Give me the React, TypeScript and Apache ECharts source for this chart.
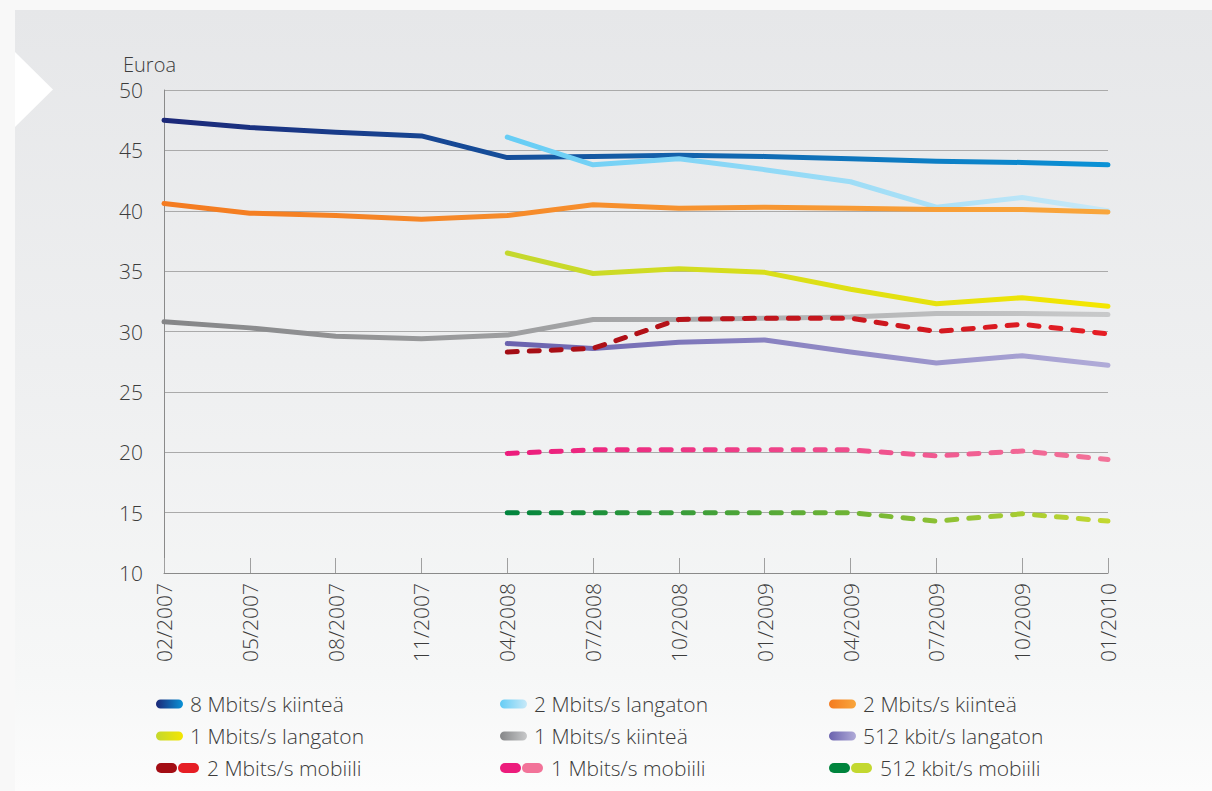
import React, { useEffect, useRef } from 'react';
import * as echarts from 'echarts';

const categories = ['02/2007', '05/2007', '08/2007', '11/2007', '04/2008', '07/2008', '10/2008', '01/2009', '04/2009', '07/2009', '10/2009', '01/2010'];

const s8Kiintea = [47.5, 46.9, 46.5, 46.2, 44.4, 44.5, 44.6, 44.5, 44.3, 44.1, 44.0, 43.8];
const s2Langaton = [null, null, null, null, 46.1, 43.8, 44.3, 43.4, 42.4, 40.3, 41.1, 40.0];
const s2Kiintea = [40.6, 39.8, 39.6, 39.3, 39.6, 40.5, 40.2, 40.3, 40.2, 40.1, 40.1, 39.9];
const s1Langaton = [null, null, null, null, 36.5, 34.8, 35.2, 34.9, 33.5, 32.3, 32.8, 32.1];
const s1Kiintea = [30.8, 30.3, 29.6, 29.4, 29.7, 31.0, 31.0, 31.1, 31.2, 31.5, 31.5, 31.4];
const s512Langaton = [null, null, null, null, 29.0, 28.6, 29.1, 29.3, 28.3, 27.4, 28.0, 27.2];
const s2Mobiili = [null, null, null, null, 28.3, 28.6, 31.0, 31.1, 31.1, 30.0, 30.6, 29.8];
const s1Mobiili = [null, null, null, null, 19.9, 20.2, 20.2, 20.2, 20.2, 19.7, 20.1, 19.4];
const s512Mobiili = [null, null, null, null, 15.0, 15.0, 15.0, 15.0, 15.0, 14.3, 14.9, 14.3];

const yTicks = { min: 10, max: 50, interval: 5 };
const yAxisName = 'Euroa';

const seriesDefs = [
  { name: '8 Mbits/s kiinteä', data: s8Kiintea, from: '#1c2878', to: '#0a92d6', dashed: false },
  { name: '2 Mbits/s langaton', data: s2Langaton, from: '#66cdf5', to: '#c8e9f8', dashed: false },
  { name: '2 Mbits/s kiinteä', data: s2Kiintea, from: '#f47b20', to: '#f9a63c', dashed: false },
  { name: '1 Mbits/s langaton', data: s1Langaton, from: '#c4d82e', to: '#f4e600', dashed: false },
  { name: '1 Mbits/s kiinteä', data: s1Kiintea, from: '#858688', to: '#c8c9ca', dashed: false },
  { name: '512 kbit/s langaton', data: s512Langaton, from: '#6a62ae', to: '#b0abd8', dashed: false },
  { name: '2 Mbits/s mobiili', data: s2Mobiili, from: '#a30d14', to: '#e61e25', dashed: true },
  { name: '1 Mbits/s mobiili', data: s1Mobiili, from: '#ec1c7c', to: '#f27399', dashed: true },
  { name: '512 kbit/s mobiili', data: s512Mobiili, from: '#00843d', to: '#c3d830', dashed: true },
];

const FONT = "'Open Sans', 'Noto Sans', sans-serif";
const TEXT_COLOR = '#3c3c3c';

function grad(a: string, b: string) {
  return new echarts.graphic.LinearGradient(0, 0, 1, 0, [
    { offset: 0, color: a },
    { offset: 1, color: b },
  ]);
}

function buildLegend() {
  const colX = [156, 500, 829];
  const rowY = [704, 736, 768];
  return seriesDefs.map((s, i) => {
    const col = i % 3;
    const row = Math.floor(i / 3);
    const children: any[] = [];
    let textX = 34;
    if (s.dashed) {
      children.push({ type: 'rect', shape: { x: 0, y: -5, width: 21, height: 10, r: 5 }, style: { fill: s.from } });
      children.push({ type: 'rect', shape: { x: 22, y: -5, width: 21, height: 10, r: 5 }, style: { fill: s.to } });
      textX = 51;
    } else {
      children.push({ type: 'rect', shape: { x: 0, y: -4.5, width: 27, height: 9, r: 4.5 }, style: { fill: grad(s.from, s.to) } });
    }
    children.push({
      type: 'text',
      x: textX,
      y: 0,
      style: { text: s.name, fontSize: 21, fontWeight: 300, fontFamily: FONT, fill: TEXT_COLOR, verticalAlign: 'middle', align: 'left' },
    });
    return { type: 'group', x: colX[col], y: rowY[row], children };
  });
}

export default function App() {
  const ref = useRef<HTMLDivElement>(null);
  useEffect(() => {
    const chart = echarts.init(ref.current!, null, { renderer: 'svg' });
    const option: any = {
      animation: false,
      backgroundColor: '#f8f8f8',
      grid: { left: 164, right: 104, top: 90, bottom: 218, containLabel: false },
      xAxis: {
        type: 'category',
        data: categories,
        boundaryGap: false,
        axisLine: { show: true, lineStyle: { color: '#8a8a8a', width: 1 } },
        axisTick: { show: true, inside: true, length: 15, lineStyle: { color: '#a0a0a0' } },
        axisLabel: { rotate: 90, margin: 10, fontSize: 21, fontWeight: 300, fontFamily: FONT, color: TEXT_COLOR },
        splitLine: { show: false },
      },
      yAxis: {
        type: 'value',
        min: yTicks.min,
        max: yTicks.max,
        interval: yTicks.interval,
        name: yAxisName,
        nameLocation: 'end',
        nameGap: 16,
        nameTextStyle: { fontSize: 20, fontWeight: 300, fontFamily: FONT, color: TEXT_COLOR, align: 'center', padding: [0, 29, 0, 0], lineHeight: 20 },
        axisLine: { show: true, lineStyle: { color: '#8a8a8a', width: 1 } },
        axisTick: { show: false },
        axisLabel: { margin: 21, fontSize: 21, fontWeight: 300, fontFamily: FONT, color: TEXT_COLOR },
        splitLine: { show: true, lineStyle: { color: '#aaaaaa', width: 1 } },
      },
      graphic: [
        { type: 'rect', z: -100, silent: true, shape: { x: 15, y: 10, width: 1197, height: 781 },
          style: { fill: new echarts.graphic.LinearGradient(0, 0, 0, 1, [
            { offset: 0, color: '#e6e7e9' },
            { offset: 0.45, color: '#eeeff0' },
            { offset: 0.85, color: '#f6f7f7' },
            { offset: 1, color: '#fcfcfc' },
          ]) } },
        { type: 'polygon', z: -99, silent: true, shape: { points: [[15, 52], [53, 89.5], [15, 127]] }, style: { fill: '#ffffff' } },
        ...buildLegend(),
      ],
      series: seriesDefs.map((s) => ({
        name: s.name,
        type: 'line',
        data: s.data,
        showSymbol: false,
        symbol: 'none',
        connectNulls: false,
        lineStyle: {
          width: 5,
          color: grad(s.from, s.to),
          type: s.dashed ? [10, 12] : 'solid',
          cap: 'round',
          join: 'round',
        },
        emphasis: { disabled: true },
      })),
    };
    chart.setOption(option);
    return () => chart.dispose();
  }, []);
  return <div ref={ref} style={{ position: 'absolute', left: 0, top: 0, width: 1212, height: 791 }} />;
}
